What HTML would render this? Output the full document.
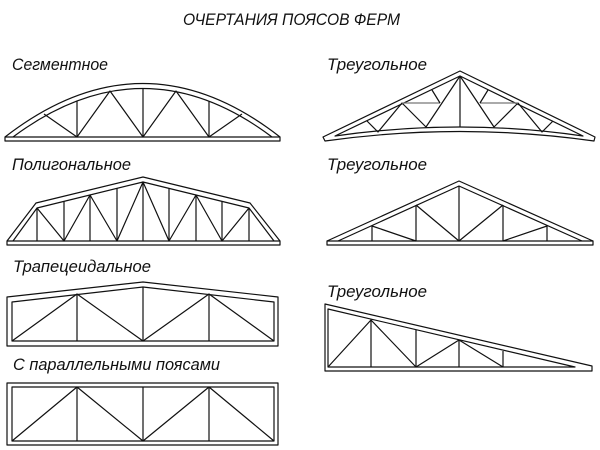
<!DOCTYPE html>
<html><head><meta charset="utf-8"><style>
html,body{margin:0;padding:0;background:#fff;}
svg{display:block}
text{font-family:"Liberation Sans","DejaVu Sans",sans-serif;font-style:italic;fill:#111;}
</style></head><body>
<svg width="600" height="450" viewBox="0 0 600 450" xmlns="http://www.w3.org/2000/svg">
<g stroke="#111" stroke-width="1.2" fill="none" stroke-linejoin="round">
<text x="183" y="25" font-size="17" stroke="none" textLength="217" lengthAdjust="spacingAndGlyphs">ОЧЕРТАНИЯ ПОЯСОВ ФЕРМ</text>
<text x="12" y="70" font-size="17" stroke="none" textLength="96" lengthAdjust="spacingAndGlyphs">Сегментное</text>
<text x="12" y="170" font-size="17" stroke="none" textLength="119" lengthAdjust="spacingAndGlyphs">Полигональное</text>
<text x="13" y="272" font-size="17" stroke="none" textLength="138" lengthAdjust="spacingAndGlyphs">Трапецеидальное</text>
<text x="13" y="370" font-size="17" stroke="none" textLength="207" lengthAdjust="spacingAndGlyphs">С параллельными поясами</text>
<text x="327" y="70" font-size="17" stroke="none" textLength="100" lengthAdjust="spacingAndGlyphs">Треугольное</text>
<text x="327" y="170" font-size="17" stroke="none" textLength="100" lengthAdjust="spacingAndGlyphs">Треугольное</text>
<text x="327" y="297" font-size="17" stroke="none" textLength="100" lengthAdjust="spacingAndGlyphs">Треугольное</text>

<!-- Segment -->
<rect x="5" y="137" width="275" height="4"/>
<path d="M5 137 Q143 30 280 137"/>
<path d="M13 137 Q143 40 272 137"/>
<path d="M77 137V101 M143 137V88 M209 137V101"/>
<path d="M44 114L77 137L110 91L143 137L176 91L209 137L242 114"/>

<!-- Polygonal -->
<rect x="7" y="241" width="273" height="4"/>
<path d="M7 241L36 203L143 177L250 203L280 241"/>
<path d="M13 241L37 208L143 182L249 208L274 241"/>
<path d="M37 241V208 M64 241V201 M90 241V195 M117 241V188 M143 241V182 M169 241V188 M196 241V195 M222 241V201 M249 241V208"/>
<path d="M37 208L64 241L90 195L117 241L143 182L169 241L196 195L222 241L249 208"/>

<!-- Trapezoid -->
<path d="M7 346V297L143 282L278 297V346Z"/>
<path d="M12 341V302L143 287L274 302V341Z"/>
<path d="M77 341V294 M143 341V287 M209 341V294"/>
<path d="M12 341L77 294L143 341L209 294L274 341"/>

<!-- Parallel -->
<rect x="7" y="383" width="271" height="62"/>
<rect x="12" y="387" width="262" height="54"/>
<path d="M77 441V387 M143 441V387 M209 441V387"/>
<path d="M12 441L77 387L143 441L209 387L274 441"/>

<!-- Triangle 1 -->
<path d="M323 137L460 71L595 137L594 141Q460 122 325 141Z"/>
<path d="M335 136L460 76L583 136Q460 118 335 136Z"/>
<path d="M460 76V127"/>
<path d="M460 76L426 127L402 103L378 132L367 121"/>
<path d="M460 76L494 127L518 103L542 132L553 121"/>
<path d="M402 103H440 M518 103H480" stroke="#777"/>
<path d="M432 90L440 103 M488 90L480 103"/>

<!-- Triangle 2 -->
<rect x="327" y="241" width="266" height="4"/>
<path d="M327 241L459 181L593 241"/>
<path d="M338 241L459 186L582 241"/>
<path d="M372 241V226 M416 241V205 M459 241V186 M503 241V205 M547 241V226"/>
<path d="M372 226L416 241 M416 205L459 241L503 205 M503 241L547 226"/>

<!-- Triangle 3 -->
<path d="M325 371V304L592 366V371Z"/>
<path d="M328 367V309L575 367Z"/>
<path d="M371 367V320 M416 367V330 M459 367V340 M503 367V351"/>
<path d="M328 367L371 320L416 367L459 340L503 367"/>
</g>
</svg>
</body></html>
